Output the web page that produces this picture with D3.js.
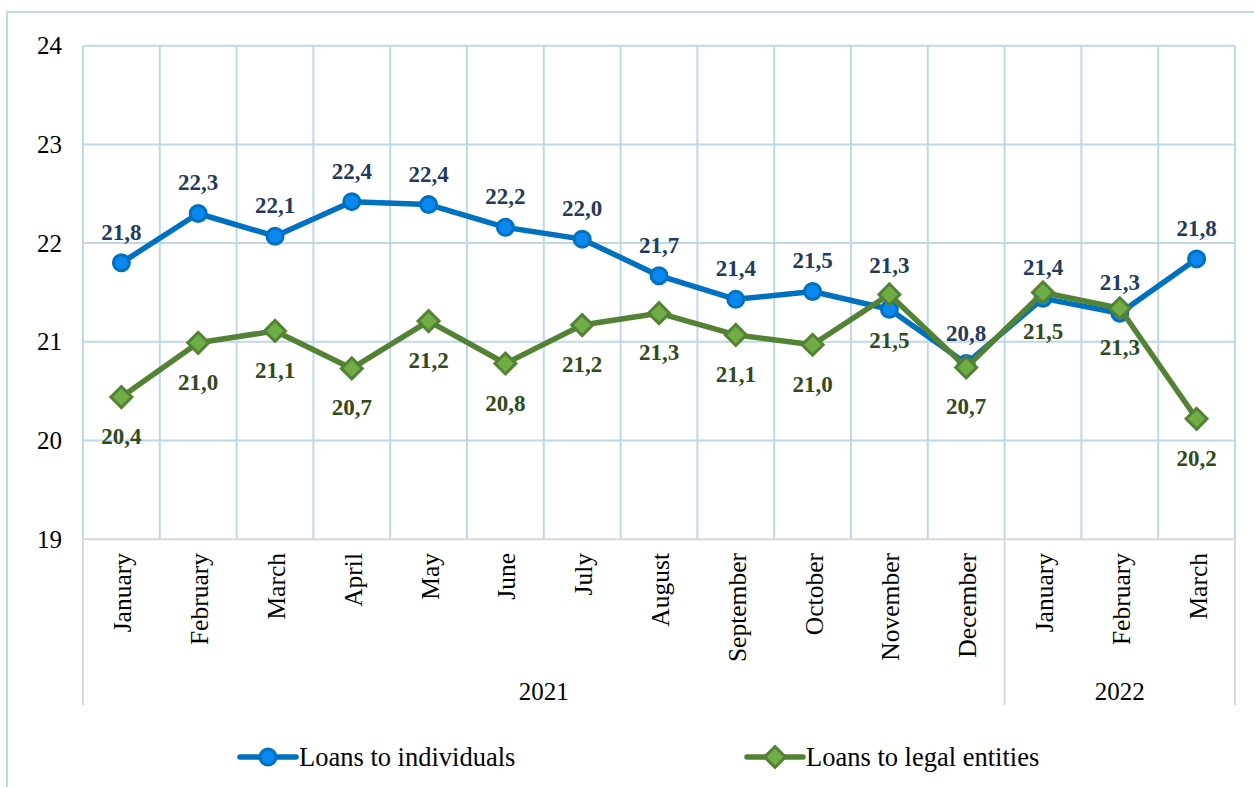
<!DOCTYPE html>
<html><head><meta charset="utf-8">
<script src="https://cdn.jsdelivr.net/npm/d3@7"></script>
<style>
html,body{margin:0;padding:0;background:#fff;}
svg{display:block;font-family:"Liberation Serif","Times New Roman",serif;}
svg text{font-family:"Liberation Serif","Times New Roman",serif;}
</style></head>
<body><svg id="c" width="1254" height="787"></svg>
<script>
const months = ["January","February","March","April","May","June","July","August","September","October","November","December","January","February","March"];
const years = [{label:"2021", from:0, to:12},{label:"2022", from:12, to:15}];
const individuals = [21.80,22.30,22.07,22.42,22.39,22.16,22.04,21.67,21.43,21.51,21.33,20.78,21.44,21.29,21.84];
const legalEntities = [20.44,20.99,21.11,20.73,21.21,20.78,21.17,21.29,21.07,20.97,21.48,20.74,21.50,21.34,20.22];
const yTicks = [19,20,21,22,23,24];
const seriesNames = ["Loans to individuals","Loans to legal entities"];

const svg = d3.select("#c");
const L=83, R=1235, T=45.7, B=539.2;
const x = d3.scaleBand().domain(d3.range(months.length)).range([L,R]).paddingInner(0).paddingOuter(0);
const y = d3.scaleLinear().domain([19,24]).range([B,T]);
const cx = i => x(i)+x.bandwidth()/2;
const grid="#BDD7EE", axisGray="#D9D9D9";
const serif = "Liberation Serif";

// outer border
svg.append("rect").attr("x",7).attr("y",12).attr("width",1260).attr("height",800)
  .attr("fill","none").attr("stroke",grid).attr("stroke-width",2);

// horizontal grid
svg.append("g").selectAll("line").data(yTicks.filter(d=>d>19)).join("line")
  .attr("x1",L).attr("x2",R).attr("y1",d=>y(d)).attr("y2",d=>y(d))
  .attr("stroke",grid).attr("stroke-width",2);
// vertical grid
svg.append("g").selectAll("line").data(d3.range(months.length+1)).join("line")
  .attr("x1",i=>i<months.length?x(i):R).attr("x2",i=>i<months.length?x(i):R)
  .attr("y1",T).attr("y2",B).attr("stroke",grid).attr("stroke-width",2);

// category axis frame
svg.append("line").attr("x1",L).attr("x2",R).attr("y1",B).attr("y2",B).attr("stroke",axisGray).attr("stroke-width",2);
const divs=[0,12,15];
svg.append("g").selectAll("line").data(divs).join("line")
  .attr("x1",i=>i<months.length?x(i):R).attr("x2",i=>i<months.length?x(i):R)
  .attr("y1",B).attr("y2",705).attr("stroke",axisGray).attr("stroke-width",2);

// y tick labels
const yAxis = d3.axisLeft(y).tickValues(yTicks).tickSize(0).tickPadding(21).tickFormat(d3.format("d"));
const ya = svg.append("g").attr("transform",`translate(${L},0)`).call(yAxis);
ya.attr("font-family",serif);
ya.select(".domain").remove();
ya.selectAll("text").attr("font-size",25).attr("font-family",serif).attr("fill","#000");

// month labels
svg.append("g").selectAll("text").data(months).join("text")
  .attr("transform",(d,i)=>`translate(${cx(i)+1},553) rotate(-90)`)
  .attr("text-anchor","end").attr("dy","0.35em").attr("font-family",serif)
  .attr("font-size",25.5).attr("fill","#000").text(d=>d);
// year labels
svg.append("g").selectAll("text").data(years).join("text")
  .attr("x",d=>(x(d.from)+(d.to<months.length?x(d.to):R))/2).attr("y",700)
  .attr("text-anchor","middle").attr("font-family",serif).attr("font-size",25).attr("fill","#000").text(d=>d.label);

const line = d3.line().x((d,i)=>cx(i)).y(d=>y(d));
const fmt = v => d3.format(".1f")(v).replace(".",",");

// individuals series
svg.append("path").datum(individuals).attr("d",line).attr("fill","none")
  .attr("stroke","#0070C0").attr("stroke-width",5.5).attr("stroke-linejoin","round");
svg.append("g").selectAll("circle").data(individuals).join("circle")
  .attr("cx",(d,i)=>cx(i)).attr("cy",d=>y(d)).attr("r",8)
  .attr("fill","#0A88F0").attr("stroke","#0070C0").attr("stroke-width",3);
// legal entities series (drawn on top)
svg.append("path").datum(legalEntities).attr("d",line).attr("fill","none")
  .attr("stroke","#548235").attr("stroke-width",5.5).attr("stroke-linejoin","round");
const diamond = d3.symbol().type(d3.symbolSquare).size(220);
svg.append("g").selectAll("path").data(legalEntities).join("path")
  .attr("d",diamond).attr("transform",(d,i)=>`translate(${cx(i)},${y(d)}) rotate(45)`)
  .attr("fill","#70AD47").attr("stroke","#548235").attr("stroke-width",3);

// data labels
svg.append("g").selectAll("text").data(individuals).join("text")
  .attr("x",(d,i)=>cx(i)).attr("y",(d,i)=>y(d)-(i===10?36:23))
  .attr("text-anchor","middle").attr("font-family",serif).attr("font-size",23).attr("font-weight","bold")
  .attr("fill","#1F3B5E").text(d=>fmt(d));
svg.append("g").selectAll("text").data(legalEntities).join("text")
  .attr("x",(d,i)=>cx(i)).attr("y",(d,i)=>y(d)+(i===10?54:47))
  .attr("text-anchor","middle").attr("font-family",serif).attr("font-size",23).attr("font-weight","bold")
  .attr("fill","#2F4B1C").text(d=>fmt(d));

// legend
const leg = [{name:seriesNames[0], x:240, c:"#0070C0", f:"#0A88F0", t:"circle"},
             {name:seriesNames[1], x:747, c:"#548235", f:"#70AD47", t:"diamond"}];
const lg = svg.append("g").selectAll("g").data(leg).join("g").attr("transform",d=>`translate(${d.x},757)`);
lg.append("line").attr("x1",0).attr("x2",56).attr("stroke",d=>d.c).attr("stroke-width",5.5).attr("stroke-linecap","round");
lg.filter(d=>d.t==="circle").append("circle").attr("cx",28).attr("r",8).attr("fill",d=>d.f).attr("stroke",d=>d.c).attr("stroke-width",3);
lg.filter(d=>d.t==="diamond").append("path").attr("d",diamond).attr("transform","translate(28,0) rotate(45)")
  .attr("fill",d=>d.f).attr("stroke",d=>d.c).attr("stroke-width",3);
lg.append("text").attr("x",59).attr("y",9).attr("font-family",serif).attr("font-size",26.5).attr("fill","#000").text(d=>d.name);
</script></body></html>
